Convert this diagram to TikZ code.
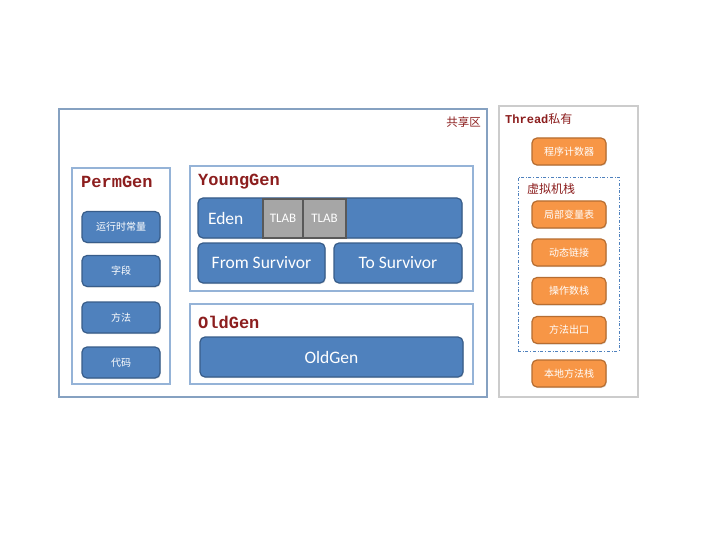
\documentclass[tikz,border=0pt]{standalone}
\usepackage{fontspec}
\setmainfont{Carlito}
\newfontfamily\cjk{Noto Sans CJK SC}
\newfontfamily\titlemono{Liberation Mono}[BoldFont={Liberation Mono Bold}]
\usetikzlibrary{shadows}
\definecolor{itemblue}{RGB}{79,129,189}
\definecolor{itemblueedge}{RGB}{56,93,138}
\definecolor{itemorange}{RGB}{247,150,70}
\definecolor{itemorangeedge}{RGB}{182,109,49}
\definecolor{regionedge}{RGB}{149,179,215}
\definecolor{titlered}{RGB}{140,30,30}
\definecolor{tlabgray}{RGB}{166,166,166}
\tikzset{
  region/.style={draw=regionedge, line width=1.2pt, fill=white, minimum width=#1, inner sep=0pt,
    drop shadow={shadow xshift=1pt, shadow yshift=-1pt, opacity=0.2}},
  regiontitle/.style={anchor=west, inner sep=0pt, text=titlered, font=\titlemono\bfseries\fontsize{17}{20}\selectfont},
  blueitem/.style={draw=itemblueedge, line width=1.2pt, fill=itemblue, rounded corners=5pt, text=white,
    inner sep=0pt, drop shadow={shadow xshift=0.8pt, shadow yshift=-1pt, opacity=0.25}},
  orangeitem/.style={draw=itemorangeedge, line width=1.2pt, fill=itemorange, rounded corners=5pt, text=white,
    minimum width=74pt, minimum height=27pt, inner sep=0pt, font=\cjk\fontsize{10}{12}\selectfont,
    drop shadow={shadow xshift=0.8pt, shadow yshift=-1pt, opacity=0.25}},
  tlabcell/.style={draw=gray!70!black, line width=1.2pt, fill=tlabgray, text=white, inner sep=0pt,
    minimum height=39pt, font=\fontsize{13}{15}\selectfont},
}
\begin{document}
\begin{tikzpicture}[x=1pt, y=-1pt]
    \useasboundingbox (0,0) rectangle (720,540);

    % shared area
    \node[region=428pt, draw=regionedge!90!black, minimum height=288pt] (shared) at (273,253) {};
    \node[anchor=east, inner sep=0pt, text=titlered, font=\cjk\fontsize{11.5}{13}\selectfont]
        (sharedtitle) at (481,122) {共享区};

    % PermGen
    \node[region=98pt, minimum height=216pt] (perm) at (121,276) {};
    \node[regiontitle] (permtitle) at (81,182) {PermGen};
    \node[blueitem, minimum width=78pt, minimum height=31pt, font=\cjk\fontsize{10}{12}\selectfont]
        (constpool) at (121,227) {运行时常量};
    \node[blueitem, minimum width=78pt, minimum height=31pt, font=\cjk\fontsize{10}{12}\selectfont]
        (fields) at (121,271) {字段};
    \node[blueitem, minimum width=78pt, minimum height=31pt, font=\cjk\fontsize{10}{12}\selectfont]
        (methods) at (121,317.5) {方法};
    \node[blueitem, minimum width=78pt, minimum height=31pt, font=\cjk\fontsize{10}{12}\selectfont]
        (code) at (121,362.5) {代码};

    % YoungGen
    \node[region=283pt, minimum height=125pt] (young) at (331.5,228.5) {};
    \node[regiontitle] (youngtitle) at (198,182) {YoungGen};
    \node[blueitem, text width=244pt, inner xsep=10pt, minimum height=40pt, align=left,
        font=\fontsize{17.5}{20}\selectfont] (eden) at (330,218) {Eden};
    \node[tlabcell, minimum width=40pt] (tlaba) at (283,218.5) {TLAB};
    \node[tlabcell, minimum width=43pt] (tlabb) at (324.5,218.5) {TLAB};
    \node[blueitem, minimum width=127pt, minimum height=40pt, font=\fontsize{17.5}{20}\selectfont]
        (fromsurv) at (261.5,263) {From Survivor};
    \node[blueitem, minimum width=128pt, minimum height=40pt, font=\fontsize{17.5}{20}\selectfont]
        (tosurv) at (398,263) {To Survivor};

    % OldGen
    \node[region=283pt, minimum height=80pt] (old) at (331.5,344) {};
    \node[regiontitle] (oldtitle) at (198,322) {OldGen};
    \node[blueitem, minimum width=263pt, minimum height=40pt, font=\fontsize{17.5}{20}\selectfont]
        (oldbar) at (331.5,357) {OldGen};

    % thread private area
    \node[region=139pt, draw=gray!40, minimum height=291pt] (thread) at (568.5,251.5) {};
    \node[anchor=west, inner sep=0pt, text=titlered] (threadtitle) at (505,119)
        {{\titlemono\bfseries\fontsize{12}{14}\selectfont Thread}{\cjk\fontsize{12}{14}\selectfont 私有}};
    \node[orangeitem] (pc) at (569,151.5) {程序计数器};

    % JVM stack
    \node[draw=itemblue, dash dot, line width=0.8pt, minimum width=101pt, minimum height=174pt, inner sep=0pt]
        (jvmstack) at (568.5,264) {};
    \node[anchor=west, inner sep=0pt, text=titlered, font=\cjk\fontsize{12}{14}\selectfont]
        (jvmtitle) at (527,189) {虚拟机栈};
    \node[orangeitem] (locals) at (569,214.5) {局部变量表};
    \node[orangeitem] (dynlink) at (569,252.5) {动态链接};
    \node[orangeitem] (opstack) at (569,291) {操作数栈};
    \node[orangeitem] (retaddr) at (569,330) {方法出口};
    \node[orangeitem] (nativestack) at (569,373.5) {本地方法栈};
\end{tikzpicture}
\end{document}
